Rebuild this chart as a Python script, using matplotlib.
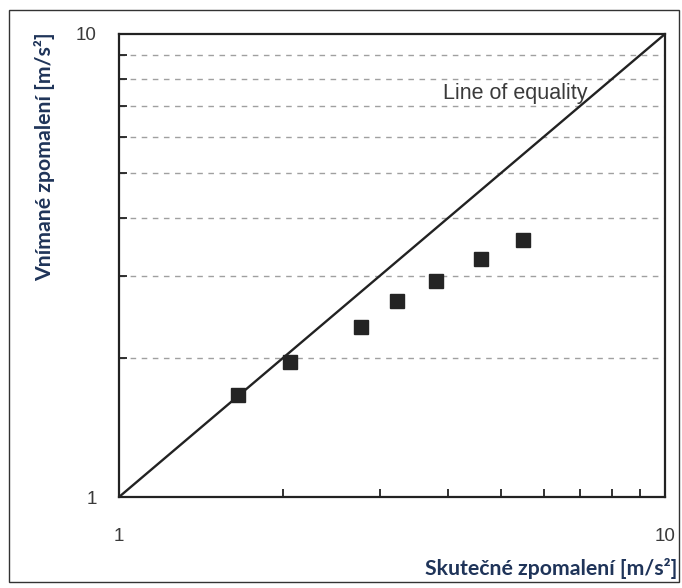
import matplotlib
matplotlib.use('Agg')
import matplotlib.pyplot as plt
from matplotlib.ticker import NullFormatter
from matplotlib.patches import Rectangle

# Data
actual = [1.65, 2.06, 2.78, 3.23, 3.81, 4.60, 5.50]       # Skutečné zpomalení
perceived = [1.66, 1.96, 2.33, 2.65, 2.93, 3.27, 3.59]    # Vnímané zpomalení
equality = [1, 10]
major_ticks = [1, 10]
major_labels = ['1', '10']
minor_ticks = [2, 3, 4, 5, 6, 7, 8, 9]

W, H = 682, 588
fig = plt.figure(figsize=(W / 100, H / 100), dpi=100)
fig.patch.set_facecolor('white')

ax = fig.add_axes([119 / W, 1 - 497 / H, 546 / W, 463 / H])
ax.set_xscale('log')
ax.set_yscale('log')
ax.set_xlim(1, 10)
ax.set_ylim(1, 10)

for v in minor_ticks:
    ax.axhline(v, color='#a0a0a0', lw=1.0, ls=(0, (4, 4)), zorder=1)

ax.plot(equality, equality, color='#222222', lw=1.7, zorder=2)
ax.plot(actual, perceived, 's', color='#242424', ms=9.5, mec='#242424', zorder=3)

ax.set_xticks(major_ticks)
ax.set_xticklabels(major_labels)
ax.set_xticks(minor_ticks, minor=True)
ax.xaxis.set_minor_formatter(NullFormatter())
ax.set_yticks(major_ticks)
ax.set_yticklabels(major_labels)
ax.set_yticks(minor_ticks, minor=True)
ax.yaxis.set_minor_formatter(NullFormatter())

ax.tick_params(which='both', direction='in', color='#222222')
ax.tick_params(which='major', length=0, labelsize=13.5, labelcolor='#3a3a3a')
ax.tick_params(axis='x', which='major', pad=22)
ax.tick_params(axis='y', which='major', pad=16)
ax.tick_params(which='minor', length=6, width=1.3)
for lab in ax.get_xticklabels() + ax.get_yticklabels():
    lab.set_family('Liberation Sans')

for s in ax.spines.values():
    s.set_linewidth(1.6)
    s.set_color('#222222')

fig.text(443 / W, 1 - 99.5 / H, 'Line of equality', fontsize=15.5,
         family='Liberation Sans', color='#3a3a3a', ha='left', va='baseline')

label_color = '#1f3459'
fig.text(677 / W, 1 - 575 / H, 'Skutečné zpomalení [m/s²]', fontsize=15.3,
         family='Lato', fontweight='bold', color=label_color,
         ha='right', va='baseline')
fig.text(45 / W, 1 - 157 / H, 'Vnímané zpomalení [m/s²]', fontsize=15.3,
         family='Lato', fontweight='bold', color=label_color,
         ha='center', va='center', rotation=90)

fig.add_artist(Rectangle((9 / W, 6 / H), 670 / W, 572 / H,
                         transform=fig.transFigure, fill=False,
                         ec='#333333', lw=1.0))

fig.savefig('out.png', dpi=100)
